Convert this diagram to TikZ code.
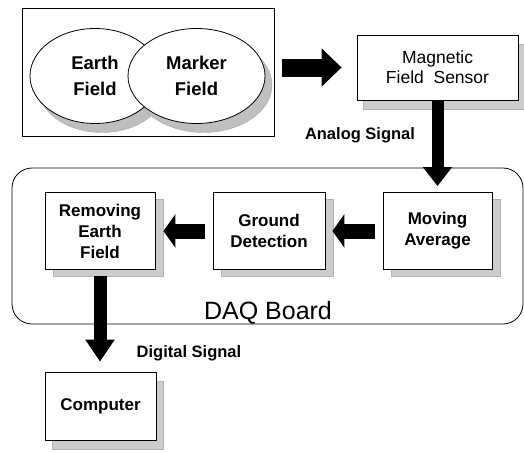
\documentclass[tikz,border=0pt]{standalone}
\usepackage{fontspec}
\setmainfont{Liberation Sans}
\usetikzlibrary{shapes.geometric,arrows.meta}

\tikzset{
 shade/.style 2 args={preaction={fill=gray!40, draw=gray!60, line width=0.4pt,
  transform canvas={xshift=#1, yshift=#2}}},
 block/.style={draw, line width=0.8pt, fill=white, align=center,
  font=\fontsize{17}{21}\selectfont\bfseries,
  minimum width=110pt, minimum height=77pt, shade={8pt}{-7pt}},
 field/.style={ellipse, draw, line width=0.8pt, fill=white, align=center, inner sep=0pt,
  font=\fontsize{18.5}{26}\selectfont\bfseries, minimum height=95pt},
 fieldshade/.style={ellipse, fill=gray!50, draw=gray!70, line width=0.4pt, inner sep=0pt, minimum height=95pt},
 fatarrow/.style={line width=13pt, -{Triangle[length=20pt,width=28pt]}},
 signal/.style={font=\fontsize{16.5}{18}\selectfont\bfseries}
}

\begin{document}
\begin{tikzpicture}[x=1pt,y=-1pt]
\useasboundingbox (0,0) rectangle (524,452);

% the two fields
\node[draw, line width=0.8pt, minimum width=252pt, minimum height=128pt] (fields) at (148,72) {};
\node[fieldshade, minimum width=130pt] (earthshade) at (102,85) {};
\node[fieldshade, minimum width=137pt] (markershade) at (203.5,85) {};
\node[field, minimum width=130pt] (earth) at (95,76) {Earth\\Field};
\node[field, minimum width=137pt] (marker) at (196.5,76) {Marker\\Field};

% sensor
\node[draw, line width=0.8pt, fill=white, align=center, font=\fontsize{17.5}{20}\selectfont,
  minimum width=161pt, minimum height=65pt, shade={6pt}{-9pt}]
  (sensor) at (437.5,67.5) {Magnetic\\Field\ \ Sensor};
\node[signal] (analog) at (360,135) {Analog Signal};

% DAQ board
\node[draw, line width=0.8pt, rounded corners=20pt, minimum width=511pt, minimum height=156pt] (daq) at (267.5,246) {};
\node[font=\fontsize{25}{28}\selectfont] (daqname) at (268,313) {DAQ Board};
\node[block] (removing) at (100,231) {Removing\\Earth\\Field};
\node[block, minimum width=112pt] (ground) at (269,231) {Ground\\Detection};
\node[block, minimum width=109pt] (moving) at (437.5,231) {Moving\\Average};

% output
\node[signal] (digital) at (189,353) {Digital Signal};
\node[draw, line width=0.8pt, fill=white, font=\fontsize{17}{21}\selectfont\bfseries,
  minimum width=111pt, minimum height=68pt, shade={7pt}{-9pt}]
  (computer) at (100.5,406) {Computer};

% arrows
\draw[fatarrow, line width=18pt, -{Triangle[length=20pt,width=37pt]}, shorten <=8pt, shorten >=15pt]
  (fields.east |- sensor.west) -- (sensor.west);
\draw[fatarrow, line width=12pt, -{Triangle[length=19pt,width=28pt]}, shorten >=6pt]
  (sensor.south) -- (moving.north);
\draw[fatarrow, line width=15pt, -{Triangle[length=12pt,width=33pt]}, shorten <=8pt, shorten >=7pt]
  (moving.west) -- (ground.east);
\draw[fatarrow, line width=15pt, -{Triangle[length=12pt,width=33pt]}, shorten <=8pt, shorten >=8pt]
  (ground.west) -- (removing.east);
\draw[fatarrow, line width=13pt, -{Triangle[length=22pt,width=28pt]}, shorten <=6pt, shorten >=10pt]
  (removing.south) -- (removing.south |- computer.north);

\end{tikzpicture}
\end{document}
